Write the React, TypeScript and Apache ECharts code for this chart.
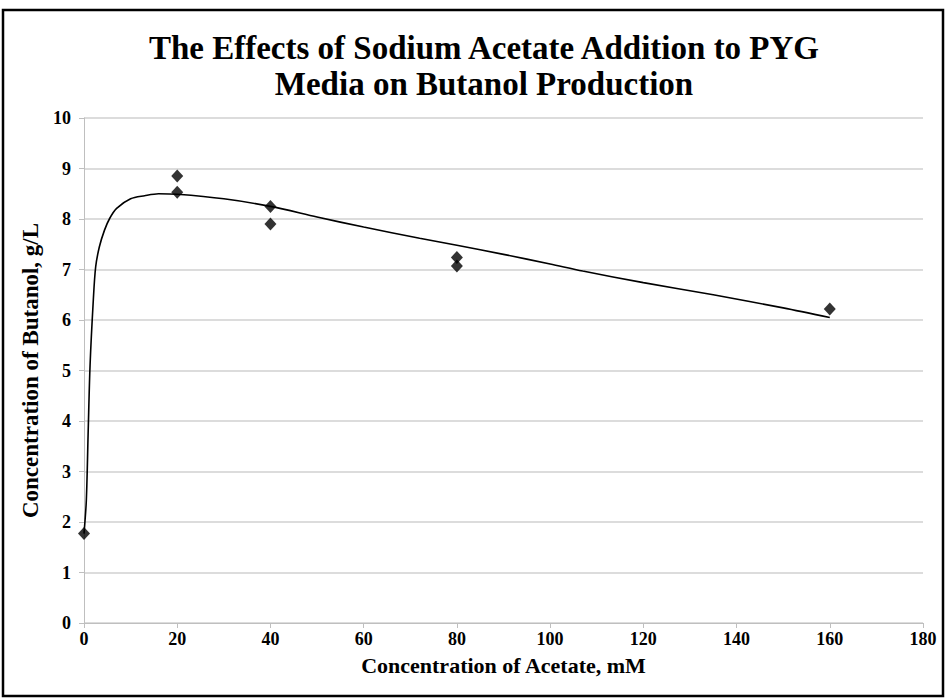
import React, { useEffect, useRef } from "react";
import * as echarts from "echarts";

const titleLines = ["The Effects of Sodium Acetate Addition to PYG", "Media on Butanol Production"];
const xAxisName = "Concentration of Acetate, mM";
const yAxisName = "Concentration of Butanol, g/L";

// measured points (acetate mM, butanol g/L)
const acetateMM = [0, 20, 20, 40, 40, 80, 80, 160];
const butanolGL = [1.77, 8.85, 8.53, 8.25, 7.9, 7.24, 7.07, 6.22];

// trend curve
const curveX = [0, 0.5, 0.9, 1.3, 2.0, 2.5, 3.3, 4.4, 5.5, 7, 10, 13, 16, 20, 30, 40, 50, 60, 72, 80, 90, 100, 107, 120, 135, 150, 160];
const curveY = [1.77, 2.43, 3.8, 5.1, 6.4, 7.05, 7.45, 7.78, 8.01, 8.21, 8.4, 8.46, 8.5, 8.49, 8.4, 8.25, 8.04, 7.84, 7.62, 7.48, 7.3, 7.11, 6.97, 6.74, 6.5, 6.24, 6.05];

const xMin = 0, xMax = 180, xStep = 20;
const yMin = 0, yMax = 10, yStep = 1;

const serif = "'Liberation Serif', 'Times New Roman', serif";

export default function App() {
  const ref = useRef<HTMLDivElement>(null);
  useEffect(() => {
    document.body.style.margin = "0";
    const chart = echarts.init(ref.current!, null, { renderer: "svg" });
    const option: any = {
      animation: false,
      backgroundColor: "#ffffff",
      title: {
        text: titleLines.join("\n"),
        left: 479,
        textAlign: "center",
        top: 25,
        textStyle: {
          fontFamily: serif,
          fontWeight: "bold",
          fontSize: 33,
          lineHeight: 36,
          color: "#000",
        },
      },
      graphic: [
        {
          type: "rect",
          shape: { x: 3, y: 10, width: 940, height: 686 },
          style: { fill: "none", stroke: "#000", lineWidth: 2.5 },
          silent: true,
        },
      ],
      grid: { left: 84, right: 23, top: 118, bottom: 77, outerBoundsMode: "none", containLabel: false },
      xAxis: {
        type: "value",
        min: xMin,
        max: xMax,
        interval: xStep,
        name: xAxisName,
        nameLocation: "middle",
        nameGap: 31,
        nameTextStyle: { fontFamily: serif, fontWeight: "bold", fontSize: 22, color: "#000" },
        axisLine: { show: true, onZero: false, lineStyle: { color: "#bfbfbf", width: 1 } },
        axisTick: { show: true, length: 5, lineStyle: { color: "#bfbfbf" } },
        axisLabel: { fontFamily: serif, fontWeight: "bold", fontSize: 18, color: "#000", margin: 7 },
        splitLine: { show: false },
      },
      yAxis: {
        type: "value",
        min: yMin,
        max: yMax,
        interval: yStep,
        name: yAxisName,
        nameLocation: "middle",
        nameGap: 36,
        nameRotate: 90,
        nameTextStyle: { fontFamily: serif, fontWeight: "bold", fontSize: 23, color: "#000" },
        axisLine: { show: true, onZero: false, lineStyle: { color: "#bfbfbf", width: 1 } },
        axisTick: { show: true, length: 5, lineStyle: { color: "#bfbfbf" } },
        axisLabel: { fontFamily: serif, fontWeight: "bold", fontSize: 18, color: "#000", margin: 13 },
        splitLine: { show: true, lineStyle: { color: "#d0d0d0", width: 1.5 } },
      },
      series: [
        {
          type: "line",
          data: curveX.map((x, i) => [x, curveY[i]]),
          smooth: 0.3,
          showSymbol: false,
          symbol: "none",
          lineStyle: { color: "#000", width: 1.6 },
          z: 2,
        },
        {
          type: "scatter",
          data: acetateMM.map((x, i) => [x, butanolGL[i]]),
          symbol: "diamond",
          symbolSize: [12, 13],
          itemStyle: { color: "#000" },
          clip: false,
          z: 3,
        },
      ],
    };
    chart.setOption(option);
    return () => chart.dispose();
  }, []);
  return <div ref={ref} style={{ width: 946, height: 700 }} />;
}
